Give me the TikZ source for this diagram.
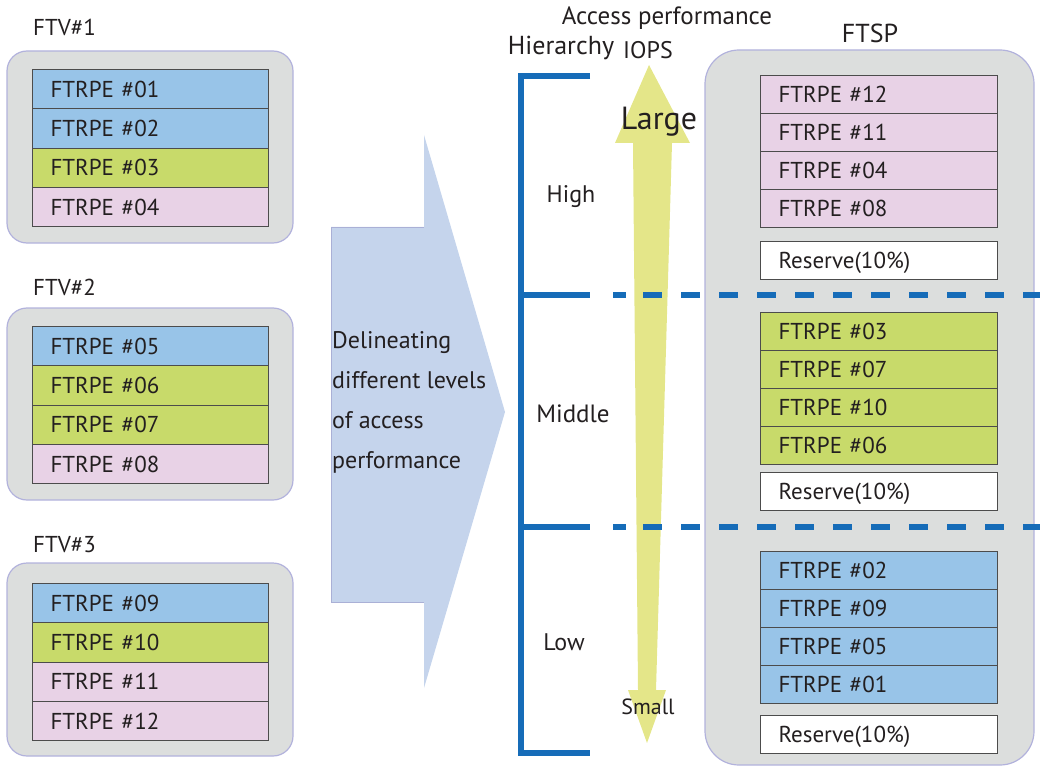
\documentclass[tikz,border=0pt]{standalone}
\usepackage{fontspec}
\setmainfont{PT Sans}
\usetikzlibrary{positioning}

\definecolor{rowblue}{RGB}{152,196,232}
\definecolor{rowgreen}{RGB}{200,218,106}
\definecolor{rowpink}{RGB}{232,210,230}
\definecolor{volgray}{RGB}{220,222,221}
\definecolor{volline}{RGB}{178,178,220}
\definecolor{flowblue}{RGB}{197,212,236}
\definecolor{flowline}{RGB}{170,176,214}
\definecolor{tierblue}{RGB}{22,108,184}
\definecolor{iopsyellow}{RGB}{228,230,137}
\definecolor{ink}{RGB}{35,31,32}

\tikzset{
    rpe/.style={draw=black!70, line width=1.1pt, anchor=north west,
        text width=200pt, inner xsep=18pt, inner ysep=0pt,
        minimum height=39.3pt, align=left, text height=16pt, text depth=0pt,
        font=\fontsize{23}{26}\selectfont, text=ink},
    tsp/.style={rpe, text width=201pt, minimum height=38pt},
    vol/.style={draw=volline, fill=volgray, line width=1.2pt, rounded corners=20pt},
    tier/.style={draw=tierblue, line width=5.5pt},
    lbl/.style={font=\fontsize{24}{28}\selectfont, text=ink, inner sep=0pt}
}

\begin{document}
\begin{tikzpicture}[x=1pt, y=-1pt]
        \useasboundingbox (0,0) rectangle (1040,767);

        %%% FTV#1
        \node[lbl, anchor=west, font=\fontsize{23}{26}\selectfont] (ftv1) at (33,27) {FTV\#1};
        \draw[vol] (7,51) rectangle (293,243);
        \node[rpe, fill=rowblue]  (l01) at (32,69)    {FTRPE \#01};
        \node[rpe, fill=rowblue]  (l02) at (32,108.3) {FTRPE \#02};
        \node[rpe, fill=rowgreen] (l03) at (32,147.6) {FTRPE \#03};
        \node[rpe, fill=rowpink]  (l04) at (32,186.9) {FTRPE \#04};

        %%% FTV#2
        \node[lbl, anchor=west, font=\fontsize{23}{26}\selectfont] (ftv2) at (33,287) {FTV\#2};
        \draw[vol] (7,308) rectangle (293,500);
        \node[rpe, fill=rowblue]  (l05) at (32,326)   {FTRPE \#05};
        \node[rpe, fill=rowgreen] (l06) at (32,365.3) {FTRPE \#06};
        \node[rpe, fill=rowgreen] (l07) at (32,404.6) {FTRPE \#07};
        \node[rpe, fill=rowpink]  (l08) at (32,443.9) {FTRPE \#08};

        %%% FTV#3
        \node[lbl, anchor=west, font=\fontsize{23}{26}\selectfont] (ftv3) at (33,545) {FTV\#3};
        \draw[vol] (7,563) rectangle (293,756);
        \node[rpe, fill=rowblue]  (l09) at (32,583)   {FTRPE \#09};
        \node[rpe, fill=rowgreen] (l10) at (32,622.3) {FTRPE \#10};
        \node[rpe, fill=rowpink]  (l11) at (32,661.6) {FTRPE \#11};
        \node[rpe, fill=rowpink]  (l12) at (32,700.9) {FTRPE \#12};

        %%% big arrow
        \fill[flowblue] (331,227) -- (424,227) -- (424,135) -- (505,412)
                        -- (424,688) -- (424,602) -- (331,602) -- cycle;
        \draw[flowline, line width=0.8pt] (424,227) -- (331,227)
                        -- (331,602) -- (424,602);
        \node[lbl, anchor=west, align=left, font=\fontsize{24}{40}\selectfont]
            (delin) at (332,402) {Delineating\\different levels\\of access\\performance};

        %%% IOPS arrow
        \fill[iopsyellow] (649,65) -- (690,143) -- (672,143) -- (656,690)
                        -- (666,690) -- (647,743) -- (628,690) -- (638,690)
                        -- (633,143) -- (615,143) -- cycle;

        %%% FTSP
        \draw[vol, rounded corners=34pt] (705,50) rectangle (1034,765);
        \node[lbl, font=\fontsize{26}{30}\selectfont] (ftsp) at (870,33) {FTSP};

        \node[tsp, fill=rowpink]  (p12) at (760,75)  {FTRPE \#12};
        \node[tsp, fill=rowpink]  (p11) at (760,113) {FTRPE \#11};
        \node[tsp, fill=rowpink]  (p04) at (760,151) {FTRPE \#04};
        \node[tsp, fill=rowpink]  (p08) at (760,189) {FTRPE \#08};
        \node[tsp, fill=white]    (res1) at (760,241) {Reserve(10\%)};

        \node[tsp, fill=rowgreen] (p03) at (760,312) {FTRPE \#03};
        \node[tsp, fill=rowgreen] (p07) at (760,350) {FTRPE \#07};
        \node[tsp, fill=rowgreen] (p10) at (760,388) {FTRPE \#10};
        \node[tsp, fill=rowgreen] (p06) at (760,426) {FTRPE \#06};
        \node[tsp, fill=white]    (res2) at (760,472) {Reserve(10\%)};

        \node[tsp, fill=rowblue]  (p02) at (760,551) {FTRPE \#02};
        \node[tsp, fill=rowblue]  (p09) at (760,589) {FTRPE \#09};
        \node[tsp, fill=rowblue]  (p05) at (760,627) {FTRPE \#05};
        \node[tsp, fill=rowblue]  (p01) at (760,665) {FTRPE \#01};
        \node[tsp, fill=white]    (res3) at (760,715) {Reserve(10\%)};

        %%% hierarchy
        \draw[tier] (590,76) -- (521,76) -- (521,753) -- (590,753);
        \draw[tier] (521,295) -- (590,295);
        \draw[tier] (613,295) -- (626,295);
        \draw[tier, dash pattern=on 19pt off 19pt] (643,295) -- (1040,295);
        \draw[tier] (521,527) -- (590,527);
        \draw[tier] (613,527) -- (626,527);
        \draw[tier, dash pattern=on 19pt off 19pt] (643,527) -- (1040,527);

        \node[lbl, font=\fontsize{25}{30}\selectfont] (acc) at (667,18) {Access performance};
        \node[lbl, font=\fontsize{26}{30}\selectfont] (hier) at (561,48) {Hierarchy};
        \node[lbl] (iops) at (648,50) {IOPS};
        \node[lbl, font=\fontsize{32}{36}\selectfont] (large) at (659,122) {Large};
        \node[lbl, font=\fontsize{22}{26}\selectfont] (small) at (648,707) {Small};
        \node[lbl] (high) at (571,197) {High};
        \node[lbl, font=\fontsize{25}{30}\selectfont] (mid) at (573,414) {Middle};
        \node[lbl] (low) at (564,642) {Low};
\end{tikzpicture}
\end{document}
